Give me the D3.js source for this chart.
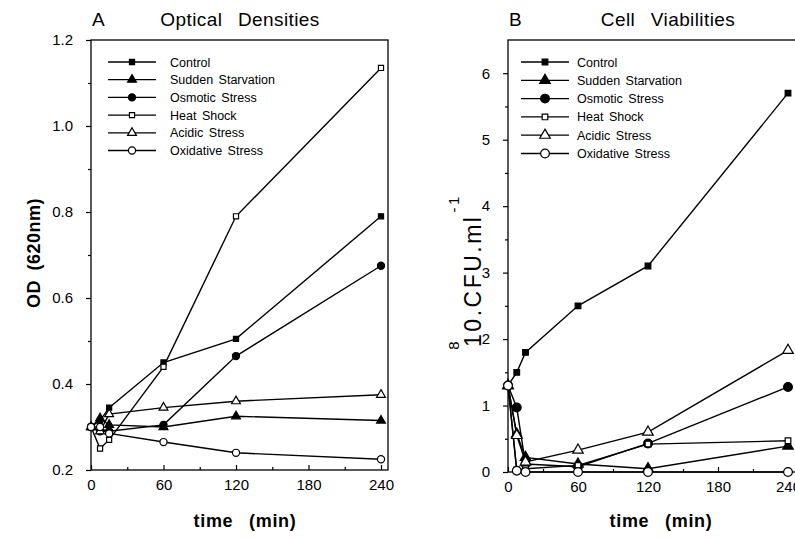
<!DOCTYPE html>
<html>
<head>
<meta charset="utf-8">
<script src="https://cdn.jsdelivr.net/npm/d3@7"></script>
<style>
  body { margin: 0; background: #fff; }
  text { font-family: "Liberation Sans", Arial, Helvetica, sans-serif; fill: #000; }
</style>
</head>
<body>
<div class="container"></div>
<script>
// sampling times (min)
const times = [0, 7.5, 15, 60, 120, 240];
const seriesNames = ['Control', 'Sudden Starvation', 'Osmotic Stress', 'Heat Shock', 'Acidic Stress', 'Oxidative Stress'];

// panel A: OD 620nm
const odControl    = [0.30, 0.315, 0.345, 0.45, 0.505, 0.79];
const odStarvation = [0.30, 0.32, 0.305, 0.30, 0.325, 0.315];
const odOsmotic    = [0.30, 0.29, 0.29, 0.305, 0.465, 0.675];
const odHeat       = [0.30, 0.25, 0.27, 0.44, 0.79, 1.135];
const odAcidic     = [0.30, 0.29, 0.33, 0.345, 0.36, 0.375];
const odOxidative  = [0.30, 0.30, 0.285, 0.265, 0.24, 0.225];

// panel B: 10^8 CFU/ml
const cfuControl    = [1.3, 1.5, 1.8, 2.5, 3.1, 5.7];
const cfuStarvation = [1.3, 0.57, 0.22, 0.12, 0.05, 0.39];
const cfuOsmotic    = [1.3, 0.97, 0.12, 0.08, 0.43, 1.28];
const cfuHeat       = [1.3, 0.03, 0.05, 0.10, 0.42, 0.47];
const cfuAcidic     = [1.3, 0.55, 0.15, 0.33, 0.60, 1.83];
const cfuOxidative  = [1.3, 0.02, 0.0, 0.0, 0.0, 0.0];

const xTicks = [0, 60, 120, 180, 240];
const odTicks = [0.2, 0.4, 0.6, 0.8, 1.0, 1.2];
const cfuTicks = [0, 1, 2, 3, 4, 5, 6];

// marker styles per series (shape, filled)
const markers = [
  {type: d3.symbolSquare,   fill: true},
  {type: d3.symbolTriangle, fill: true},
  {type: d3.symbolCircle,   fill: true},
  {type: d3.symbolSquare,   fill: false},
  {type: d3.symbolTriangle, fill: false},
  {type: d3.symbolCircle,   fill: false}
];

let svg = d3.select('.container').append('svg')
  .attr('width', 795)
  .attr('height', 540);

function drawPanel(opt) {
  let x = d3.scaleLinear().domain(opt.xDomain).range(opt.xRange);
  let y = d3.scaleLinear().domain(opt.yDomain).range(opt.yRange);
  let g = svg.append('g');

  // frame
  g.append('rect')
    .attr('x', opt.xRange[0]).attr('y', opt.yRange[1])
    .attr('width', opt.frameRight - opt.xRange[0])
    .attr('height', opt.yRange[0] - opt.yRange[1])
    .attr('fill', 'none').attr('stroke', '#000').attr('stroke-width', 1.3);

  // x axis, ticks pointing inward
  let xAxis = g.append('g')
    .attr('transform', `translate(0,${opt.yRange[0]})`)
    .call(d3.axisBottom(x).tickValues(xTicks).tickSize(-5).tickPadding(9).tickFormat(d3.format('d')));
  let xMinor = g.append('g')
    .attr('transform', `translate(0,${opt.yRange[0]})`)
    .call(d3.axisBottom(x).tickValues(d3.range(30, 240, 60)).tickSize(-3).tickFormat(''));

  // y axis, ticks pointing outward
  let yAxis = g.append('g')
    .attr('transform', `translate(${opt.xRange[0]},0)`)
    .call(d3.axisLeft(y).tickValues(opt.yTicks).tickSize(5).tickPadding(13).tickFormat(opt.yFormat));
  let yMinor = g.append('g')
    .attr('transform', `translate(${opt.xRange[0]},0)`)
    .call(d3.axisLeft(y).tickValues(opt.yMinor).tickSize(3).tickFormat(''));

  [xAxis, xMinor, yAxis, yMinor].forEach(a => {
    a.select('.domain').remove();
    a.selectAll('line').attr('stroke', '#000').attr('stroke-width', 1.2);
    a.selectAll('text').style('font-size', '15px').style('font-family', '"Liberation Sans", Arial, sans-serif');
  });

  let line = d3.line().x((d, i) => x(times[i])).y(d => y(d));

  opt.series.forEach((vals, s) => {
    g.append('path')
      .attr('d', line(vals))
      .attr('fill', 'none')
      .attr('stroke', '#000')
      .attr('stroke-width', 1.4);
  });
  opt.series.forEach((vals, s) => {
    let m = markers[s];
    g.selectAll(null)
      .data(vals)
      .enter()
      .append('path')
      .attr('transform', (d, i) => `translate(${x(times[i])},${y(d)})`)
      .attr('d', d3.symbol().type(m.type).size(opt.sizes[s]))
      .attr('fill', m.fill ? '#000' : '#fff')
      .attr('stroke', '#000')
      .attr('stroke-width', 1.2);
  });

  // legend
  let lg = g.append('g');
  seriesNames.forEach((name, s) => {
    let ly = opt.legend.y + s * opt.legend.step;
    lg.append('line')
      .attr('x1', opt.legend.x).attr('x2', opt.legend.x + 48)
      .attr('y1', ly).attr('y2', ly)
      .attr('stroke', '#000').attr('stroke-width', 1.3);
    lg.append('path')
      .attr('transform', `translate(${opt.legend.x + 24},${ly})`)
      .attr('d', d3.symbol().type(markers[s].type).size(opt.sizes[s]))
      .attr('fill', markers[s].fill ? '#000' : '#fff')
      .attr('stroke', '#000').attr('stroke-width', 1.2);
    lg.append('text')
      .attr('x', opt.legend.x + opt.legend.textOffset).attr('y', ly + 4.5)
      .style('font-size', '12.5px')
      .style('word-spacing', '2px')
      .text(name);
  });

  // titles
  g.append('text')
    .attr('x', opt.xRange[0] + 1).attr('y', 26)
    .style('font-size', '19px')
    .text(opt.letter);
  g.append('text')
    .attr('x', opt.titleX).attr('y', 26)
    .attr('text-anchor', 'middle')
    .style('font-size', '19px')
    .style('letter-spacing', '0.4px')
    .style('word-spacing', '10px')
    .text(opt.title);

  // x axis title
  g.append('text')
    .attr('x', opt.xTitleX).attr('y', 527)
    .attr('text-anchor', 'middle')
    .style('font-size', '18px')
    .style('font-weight', 'bold')
    .style('letter-spacing', '0.7px')
    .style('word-spacing', '10px')
    .text('time (min)');

  return g;
}

let gA = drawPanel({
  xDomain: [0, 240], xRange: [91, 381], frameRight: 388,
  yDomain: [0.2, 1.2], yRange: [470, 40],
  yTicks: odTicks, yMinor: d3.range(0.3, 1.2, 0.2), yFormat: d3.format('.1f'),
  series: [odControl, odStarvation, odOsmotic, odHeat, odAcidic, odOxidative],
  sizes: [26, 34, 40, 26, 34, 40],
  legend: {x: 108, y: 62, step: 17.7, textOffset: 62},
  letter: 'A', title: 'Optical Densities', titleX: 240, xTitleX: 245
});

let gB = drawPanel({
  xDomain: [0, 240], xRange: [508, 788], frameRight: 798,
  yDomain: [0, 6.5], yRange: [472, 40],
  yTicks: cfuTicks, yMinor: d3.range(0.5, 6.5, 1), yFormat: d3.format('d'),
  series: [cfuControl, cfuStarvation, cfuOsmotic, cfuHeat, cfuAcidic, cfuOxidative],
  sizes: [32, 48, 60, 32, 48, 60],
  legend: {x: 521, y: 62, step: 18.3, textOffset: 56},
  letter: 'B', title: 'Cell Viabilities', titleX: 668, xTitleX: 661
});

// y axis titles
svg.append('text')
  .attr('transform', 'translate(40,253) rotate(-90)')
  .attr('text-anchor', 'middle')
  .style('font-size', '18px')
  .style('font-weight', 'bold')
  .style('letter-spacing', '0.5px')
  .style('word-spacing', '4px')
  .text('OD (620nm)');

let yb = svg.append('text')
  .attr('transform', 'translate(481,272) rotate(-90)')
  .attr('text-anchor', 'middle')
  .style('font-size', '23px')
  .style('letter-spacing', '2.5px');
yb.append('tspan').attr('dy', -22).style('font-size', '15px').text('8');
yb.append('tspan').attr('dy', 22).attr('dx', -8).text('10.CFU.ml');
yb.append('tspan').attr('dy', -22).attr('dx', 2).style('font-size', '15px').text('-1');
</script>
</body>
</html>
